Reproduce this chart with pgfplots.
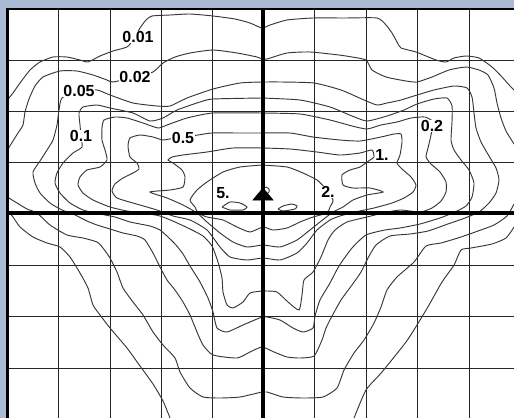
\documentclass[border=0pt]{standalone}
\usepackage{pgfplots}
\pgfplotsset{compat=1.18}
\usepackage{fontspec}
\setmainfont{Liberation Sans}
\definecolor{bgblue}{RGB}{170,186,210}
\definecolor{cline}{RGB}{55,55,55}
\tikzset{lab/.style={fill=white, inner sep=0.4pt, font=\fontsize{12}{12}\selectfont\bfseries}}
\pgfplotsset{cont/.style={cline, line width=0.7pt, smooth, tension=0.35, no markers}}
\begin{document}
\begin{tikzpicture}
\useasboundingbox (-5.475pt,0pt) rectangle (380.03pt,313.5pt);
\fill[bgblue] (-5.475pt,0pt) rectangle (380.03pt,313.5pt);
\begin{axis}[
  at={(0pt,0pt)}, anchor=south west,
  scale only axis, width=380.03pt, height=306.75pt,
  xmin=7.3, xmax=514, ymin=9, ymax=418, y dir=reverse,
  axis background/.style={fill=white},
  axis line style={draw=none},
  xtick={58.3,110,161,212.3,314.3,366,417.3,469.3},
  ytick={60,111.7,162.7,265,316.7,368.3},
  xticklabels={}, yticklabels={},
  major tick length=0pt,
  grid=major, grid style={black!85, line width=0.75pt},
  clip=false,
]
% 0.01
\addplot[cont] coordinates {(7.3,100) (13,93) (20,83) (30,70) (40,62) (53,57) (67,57) (80,60) (88,62) (100,56) (113,51) (127,47) (133,40) (140,28) (146,20) (152,16) (170,15) (190,14) (213,16) (235,19) (250,23) (262,28) (270,25) (287,20) (313,18) (345,18) (377,18) (386,25) (392,33) (397,42) (401,48) (416,52) (436,60) (446,62) (454,58) (466,56) (479,58) (492,67) (502,77) (510,86) (514,90)};
\addplot[cont] coordinates {(514,227) (506,238) (492,244) (471,248) (461,250) (454,265) (442,282) (429,305) (417,325) (406,342) (382,372) (366,390) (354,418)};
\addplot[cont] coordinates {(170,418) (163,401) (153,384) (140,366) (127,348) (110,328) (100,315) (93,305) (88,288) (80,273) (70,257) (60,247) (47,243) (33,237) (20,227) (13,217) (7.3,210)};
% 0.02
\addplot[cont] coordinates {(7.3,150) (13,141) (18,133) (23,125) (25,112) (29,99) (35,86) (43,77) (60,71) (77,71) (93,75) (107,80) (113,82) (135,77) (153,72) (163,63) (175,57) (190,53) (213,50) (237,53) (257,57) (262,59) (267,59) (287,53) (310,52) (339,55) (352,57) (366,60) (372,70) (386,77) (406,81) (417,82) (432,77) (449,70) (466,67) (479,70) (488,75) (494,88) (497,103) (501,118) (506,131) (514,144)};
\addplot[cont] coordinates {(514,204) (507,216) (494,225) (478,231) (461,237) (441,243) (426,246) (414,262) (397,277) (387,290) (381,307) (374,323) (364,340) (354,353) (344,370) (337,388) (323,397) (303,398) (283,397) (267,392) (262,392) (240,397) (220,398) (203,397) (190,388) (180,372) (175,358) (163,345) (153,332) (143,315) (133,302) (123,288) (117,272) (110,258) (103,248) (97,242) (83,238) (67,235) (50,225) (37,213) (27,209) (17,203) (7.3,197)};
% 0.05
\addplot[cont] coordinates {(262,82) (281,82) (314,83) (341,90) (364,100) (377,105) (387,103) (401,100) (417,95) (434,90) (454,86) (467,88) (472,97) (474,113) (476,128) (481,142) (489,156) (496,168) (499,180) (496,193) (489,203) (479,212) (465,218) (445,225) (428,231) (410,234) (390,236) (376,245) (368,258) (361,272) (352,285) (341,300) (331,318) (326,328) (322,340) (314,356) (300,358) (287,357) (274,352) (262,347) (250,352) (237,358) (213,355) (203,345) (197,332) (190,315) (183,302) (175,290) (167,280) (160,267) (153,253) (145,240) (137,236) (123,233) (110,229) (97,225) (87,221) (73,214) (62,210) (50,203) (40,193) (35,183) (33,172) (40,161) (47,150) (53,140) (57,125) (59,110) (62,98) (79,91) (97,90) (110,95) (133,103) (157,106) (170,106) (187,98) (213,89) (240,83) (262,82)};
% 0.1
\addplot[cont] coordinates {(262,98) (300,100) (330,107) (352,116) (367,121) (387,116) (404,110) (417,104) (434,99) (447,98) (452,106) (452,122) (451,140) (454,150) (461,160) (469,170) (474,183) (472,197) (466,206) (455,212) (440,218) (420,224) (400,228) (385,230) (366,235) (352,248) (339,266) (330,283) (320,300) (315,316) (313,328) (303,332) (293,328) (280,320) (267,317) (262,317) (243,325) (227,332) (217,328) (213,312) (208,298) (200,282) (190,266) (183,254) (176,245) (168,237) (160,230) (150,226) (130,222) (115,217) (100,214) (83,210) (70,203) (60,193) (55,183) (57,173) (63,163) (73,153) (82,147) (81,136) (80,125) (79,113) (83,107) (97,105) (110,108) (133,113) (150,121) (163,118) (177,110) (200,102) (213,99) (262,98)};
% 0.2
\addplot[cont] coordinates {(262,113) (300,114) (330,120) (352,126) (367,129) (381,125) (397,122) (411,118) (425,117) (433,122) (431,135) (428,148) (426,157) (431,164) (440,172) (446,182) (446,192) (441,201) (432,208) (420,212) (400,210) (383,213) (367,217) (347,222) (335,230) (328,240) (321,257) (313,272) (304,280) (302,295) (299,310) (288,302) (277,292) (267,291) (262,291) (250,293) (243,302) (233,308) (227,305) (223,292) (222,278) (218,262) (212,246) (203,236) (190,229) (175,222) (160,216) (143,213) (127,211) (110,207) (93,200) (83,193) (78,185) (80,177) (87,170) (100,167) (107,160) (105,150) (102,140) (102,128) (104,120) (115,117) (127,118) (143,123) (158,128) (167,125) (187,118) (213,113) (262,113)};
% 0.5
\addplot[cont] coordinates {(262,133) (290,133) (313,137) (340,140) (360,141) (381,137) (394,134) (401,134) (402,142) (400,155) (397,163) (402,169) (411,177) (416,185) (413,192) (404,198) (392,203) (374,208) (355,212) (340,216) (330,220) (317,230) (307,243) (297,253) (280,260) (263,258) (247,260) (230,257) (220,247) (207,230) (190,220) (173,216) (157,210) (133,203) (117,198) (112,191) (115,184) (123,178) (133,173) (139,169) (137,163) (130,157) (128,146) (130,138) (140,135) (153,137) (163,140) (175,138) (198,135) (212,133) (240,133) (262,133)};
% 1
\addplot[cont] coordinates {(263,148) (290,149) (317,152) (340,155) (360,153) (372,150) (374,157) (370,160) (360,167) (350,170) (342,175) (343,185) (353,188) (370,188) (383,192) (367,195) (353,200) (343,207) (333,212) (320,222) (310,230) (297,240) (280,247) (263,245) (247,247) (233,242) (220,233) (207,222) (197,213) (183,205) (167,198) (150,192) (170,190) (183,187) (185,177) (182,170) (173,163) (168,160) (172,157) (183,155) (207,152) (233,148) (263,148)};
% 2
\addplot[cont] coordinates {(262,165) (287,167) (303,173) (317,180) (325,188) (333,200) (330,207) (327,213) (313,217) (300,222) (287,228) (273,230) (263,227) (250,232) (237,227) (223,220) (207,217) (198,213) (195,207) (190,200) (197,190) (207,182) (223,172) (240,167) (262,165)};
% 5
\addplot[cont] coordinates {(222,207) (230,202) (240,203) (247,207) (243,210) (230,210) (222,207)};
\addplot[cont] coordinates {(278,209) (283,206) (292,204) (297,206) (295,209) (283,211) (278,209)};
\addplot[cont] coordinates {(266,187) (269,189) (269,192) (266,194) (263,193) (263,189) (266,187)};
% axes
\addplot[black, line width=3pt] coordinates {(262.5,9) (262.5,418)};
\addplot[black, line width=3pt] coordinates {(7.3,213.3) (514,213.3)};
\addplot[black, line width=1.8pt] coordinates {(7.3,418) (7.3,9) (514,9)};
% source
\addplot[only marks, mark=triangle*, mark size=6pt, mark options={xscale=1.45, fill=black}] coordinates {(263,196)};
% labels
\node[lab] at (axis cs:138,37) {0.01};
\node[lab] at (axis cs:135,77) {0.02};
\node[lab] at (axis cs:79,91) {0.05};
\node[lab] at (axis cs:81,136) {0.1};
\node[lab] at (axis cs:183,138) {0.5};
\node[lab] at (axis cs:432,126) {0.2};
\node[lab] at (axis cs:382,155) {1.};
\node[lab] at (axis cs:328,192) {2.};
\node[lab] at (axis cs:223,193) {5.};
\end{axis}
\end{tikzpicture}
\end{document}
